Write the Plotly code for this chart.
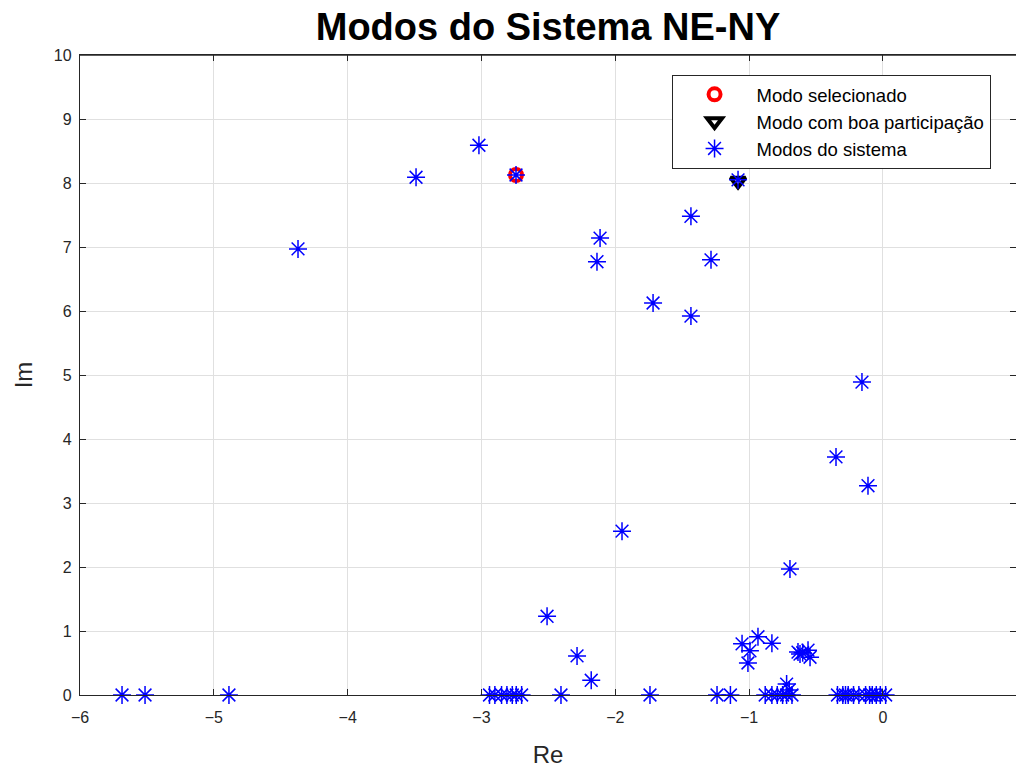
import plotly.graph_objects as go

# System modes (real, imaginary)
modes_re = [-5.686, -5.514, -4.887, -4.371, -3.489, -3.019, -2.742, -2.114, -2.137,
            -1.718, -1.435, -1.435, -1.285, -1.083, -0.157, -0.351, -0.112, -0.695,
            -1.95, -2.51, -2.286, -2.18, -2.406, -1.741,
            -2.94, -2.90, -2.85, -2.81, -2.77, -2.74, -2.70,
            -1.24, -1.14,
            -0.88, -0.83, -0.79, -0.75, -0.72, -0.68, -0.70, -0.72,
            -1.053, -0.934, -0.83, -0.994, -1.009, -0.635, -0.56, -0.62, -0.545, -0.60,
            -0.34, -0.30, -0.28, -0.26, -0.22, -0.18, -0.13, -0.10, -0.08, -0.05, -0.02, 0.02]
modes_im = [0, 0, 0, 6.97, 8.09, 8.59, 8.125, 7.14, 6.77,
            6.125, 7.48, 5.92, 6.80, 8.05, 4.89, 3.72, 3.27, 1.97,
            2.56, 1.23, 0.61, 0.23, 0, 0,
            0, 0, 0, 0, 0, 0, 0,
            0, 0,
            0, 0, 0, 0, 0, 0, 0.08, 0.17,
            0.80, 0.91, 0.81, 0.69, 0.50, 0.67, 0.70, 0.64, 0.59, 0.66,
            0, 0, 0, 0, 0, 0, 0, 0, 0, 0, 0, 0]

selected_re = [-2.742]
selected_im = [8.125]
partic_re = [-1.083]
partic_im = [8.03]

font = "Liberation Sans, Arial, sans-serif"

fig = go.Figure()
fig.add_trace(go.Scatter(x=selected_re, y=selected_im, mode="markers", name="Modo selecionado",
                         cliponaxis=False,
                         marker=dict(symbol="circle-open", size=12, color="red",
                                     line=dict(width=4, color="red"))))
fig.add_trace(go.Scatter(x=partic_re, y=partic_im, mode="markers", name="Modo com boa participação",
                         cliponaxis=False,
                         marker=dict(symbol="triangle-down-open", size=13, color="black",
                                     line=dict(width=4, color="black"))))
fig.add_trace(go.Scatter(x=modes_re, y=modes_im, mode="markers", name="Modos do sistema",
                         cliponaxis=False,
                         marker=dict(symbol="asterisk-open", size=15, color="blue",
                                     line=dict(width=1.5, color="blue"))))

axis_common = dict(showgrid=True, gridcolor="#e0e0e0", gridwidth=1, zeroline=False,
                   showline=True, linecolor="#262626", linewidth=1.3,
                   ticks="inside", ticklen=6, tickcolor="#262626", tickwidth=1.3,
                   tickfont=dict(family=font, size=16, color="#262626"))

fig.update_layout(
    width=1016, height=769,
    margin=dict(l=80, r=0, t=55, b=74),
    paper_bgcolor="white", plot_bgcolor="white",
    title=dict(text="<b>Modos do Sistema NE-NY</b>", xref="paper", x=0.5, xanchor="center",
               y=1 - 27 / 769, yanchor="middle",
               font=dict(family=font, size=38, color="black")),
    xaxis=dict(range=[-6, 0.994], tickvals=[-6, -5, -4, -3, -2, -1, 0],
               ticklabelstandoff=8,
               title=dict(text="Re", font=dict(family=font, size=24, color="#262626"), standoff=20),
               mirror="ticks", **axis_common),
    yaxis=dict(range=[0, 10], dtick=1, ticklabelstandoff=4,
               title=dict(text="Im", font=dict(family=font, size=24, color="#262626"), standoff=14),
               mirror="ticks", **axis_common),
    legend=dict(x=0.632, y=0.969, xanchor="left", yanchor="top",
                bgcolor="white", bordercolor="#262626", borderwidth=1,
                font=dict(family=font, size=18.5, color="black"),
                itemsizing="trace", itemwidth=74),
    showlegend=True,
)
# top border line
fig.add_shape(type="line", xref="paper", yref="paper", x0=0, x1=1, y0=1, y1=1,
              line=dict(color="#262626", width=1.3))

fig.write_html("out.html")
